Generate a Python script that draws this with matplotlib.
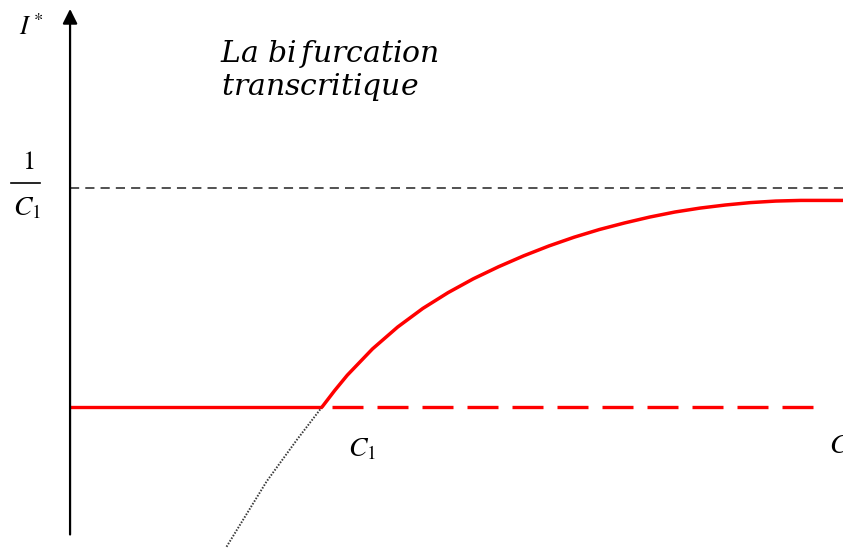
import numpy as np
import matplotlib
matplotlib.use('Agg')
import matplotlib.pyplot as plt

plt.rcParams['mathtext.fontset'] = 'stix'

# stable branch I*(C) for C > C1 (C1 = 1, plateau near 1/C1 = 1)
c_stable = [1.00, 1.05, 1.10, 1.20, 1.30, 1.40, 1.50, 1.60, 1.70, 1.80,
            1.90, 2.00, 2.10, 2.20, 2.30, 2.40, 2.50, 2.60, 2.70, 2.80,
            2.90, 3.07]
i_stable = [0.000, 0.075, 0.145, 0.265, 0.365, 0.450, 0.522, 0.585, 0.640, 0.690,
            0.735, 0.775, 0.810, 0.840, 0.867, 0.890, 0.908, 0.922, 0.933, 0.940,
            0.943, 0.943]

# unphysical continuation below zero
c_neg = [1.00, 0.90, 0.78, 0.62]
i_neg = [0.00, -0.15, -0.34, -0.64]

c1 = 1.0
c_max = 3.07
plateau = 1.0 / c1

fig = plt.figure(figsize=(8.43, 5.48), dpi=100)
ax = fig.add_axes([0, 0, 1, 1])
ax.set_xlim(-0.278, 3.067)
ax.set_ylim(-0.644, 1.858)
ax.axis('off')

# axes with arrows
ax.annotate('', xy=(0, 1.83), xytext=(0, -0.595),
            arrowprops=dict(arrowstyle='-|>', lw=1.6, color='black', mutation_scale=22))
ax.annotate('', xy=(3.075, 0), xytext=(0, 0),
            arrowprops=dict(arrowstyle='-|>', lw=1.6, color='black', mutation_scale=22))

# asymptote 1/C1
ax.plot([0, c_max], [plateau, plateau], color='#222222', lw=1.1, dashes=(6, 4))

# trivial equilibrium: stable then unstable
ax.plot([0, c1], [0, 0], color='red', lw=2.4, solid_capstyle='butt')
ax.plot([c1 + 0.04, 2.95], [0, 0], color='red', lw=2.4, dashes=(9.3, 4.2))

ax.plot(c_neg, i_neg, color='#3a3a3a', lw=1.4, dashes=(0.8, 0.8))
ax.plot(c_stable, i_stable, color='red', lw=2.5, solid_capstyle='round',
        solid_joinstyle='round')

# labels
ax.text(-0.155, 1.73, r'$I^*$', fontsize=19, ha='center', va='center')
ax.text(0.595, 1.575, r'$La\ bi\,furcation$', fontsize=21.5, ha='left', va='baseline',
        math_fontfamily='dejavuserif')
ax.text(0.6, 1.425, r'$transcritique$', fontsize=21.5, ha='left', va='baseline',
        math_fontfamily='dejavuserif')

ax.text(-0.165, 1.12, r'$1$', fontsize=19, ha='center', va='center')
ax.plot([-0.234, -0.119], [1.023, 1.023], color='black', lw=1.2)
ax.text(-0.17, 0.91, r'$C_1$', fontsize=20, ha='center', va='center')

ax.text(c1 + 0.16, -0.19, r'$C_1$', fontsize=20, ha='center', va='center')
ax.text(3.01, -0.175, r'$C$', fontsize=20, ha='left', va='center')

fig.savefig('out.png', dpi=100)
